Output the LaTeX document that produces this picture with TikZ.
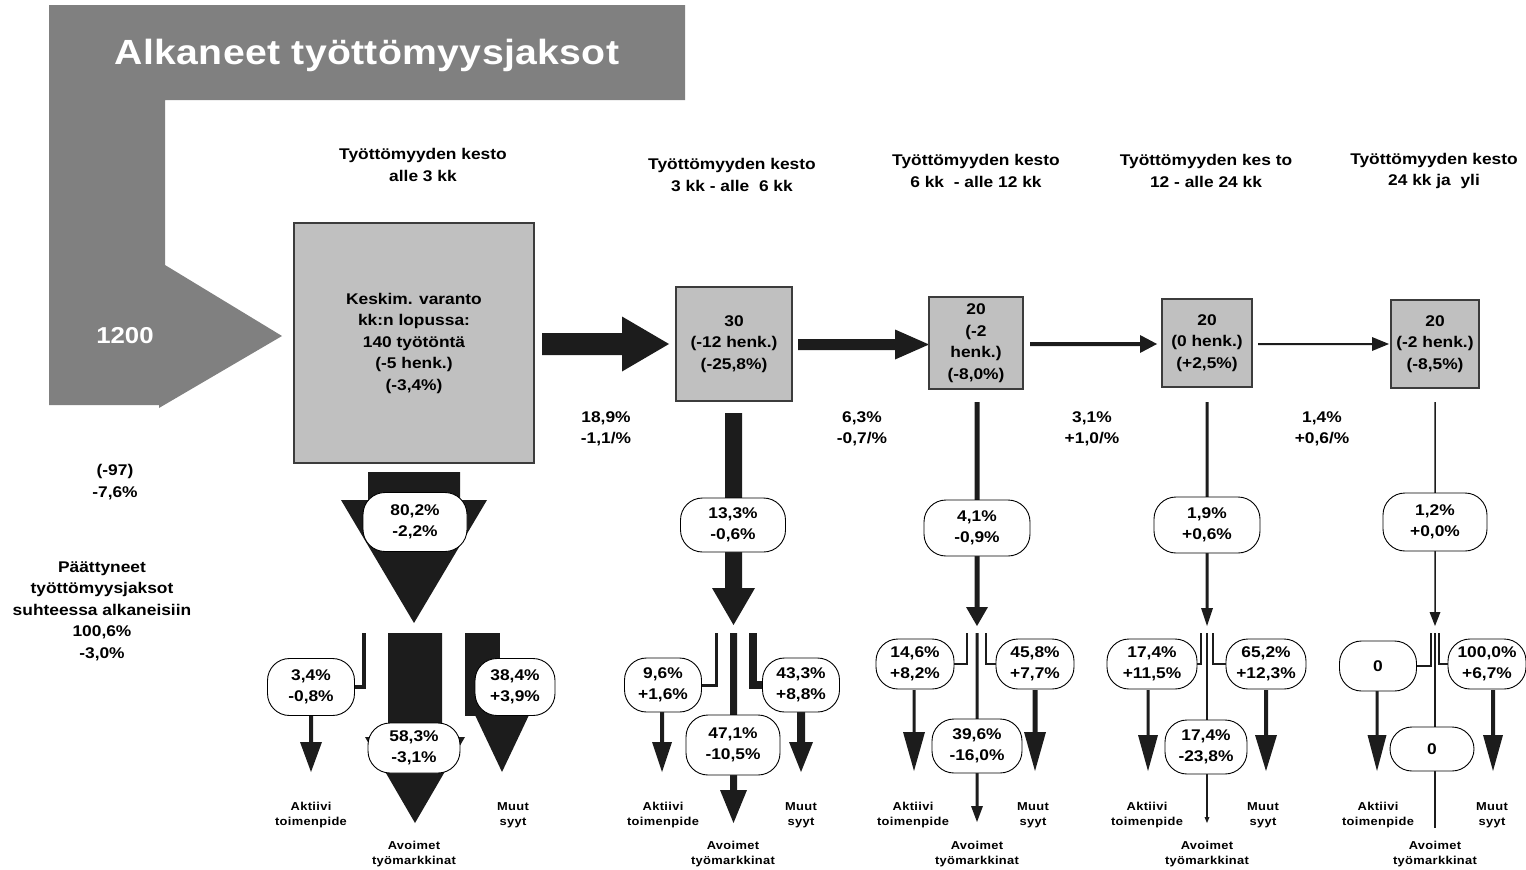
\documentclass[tikz,border=0pt]{standalone}
\usepackage{fontspec}
\setmainfont{Liberation Sans}[FakeStretch=1.12]
\definecolor{darkfill}{RGB}{28,28,28}
\definecolor{bandgray}{RGB}{128,128,128}
\definecolor{boxgray}{RGB}{192,192,192}
\definecolor{boxline}{RGB}{60,60,60}
% block arrow pointing down: x, shaft half width, top y, head start y, head half width, tip y
\newcommand\flowdown[6]{%
  \fill[darkfill] ({#1-#2},#3) -- ({#1+#2},#3) -- ({#1+#2},#4) -- ({#1+#5},#4)
    -- (#1,#6) -- ({#1-#5},#4) -- ({#1-#2},#4) -- cycle;}
% block arrow pointing right: y, shaft half width, start x, head start x, head half width, tip x
\newcommand\flowright[6]{%
  \fill[darkfill] (#3,{#1-#2}) -- (#4,{#1-#2}) -- (#4,{#1-#5}) -- (#6,#1)
    -- (#4,{#1+#5}) -- (#4,{#1+#2}) -- (#3,{#1+#2}) -- cycle;}
\begin{document}
\begin{tikzpicture}[x=1pt,y=-1pt,
  txt/.style={font=\bfseries\fontsize{15.5}{21.5}\selectfont,align=center,inner sep=0pt},
  ovtxt/.style={font=\bfseries\fontsize{15.5}{21}\selectfont,align=center,inner sep=0pt},
  lbl/.style={font=\bfseries\fontsize{11.5}{15.5}\selectfont\addfontfeature{LetterSpace=3},align=center,inner sep=0pt},
  stockbox/.style={txt,draw=boxline,line width=1.2pt,fill=boxgray},
  oval/.style={ovtxt,draw=black,line width=0.9pt,fill=white,rounded corners=22pt},
  split/.style={draw=darkfill,line width=#1},
]
\useasboundingbox (0,0) rectangle (1526,870);

% incoming spells band
\fill[bandgray] (49,5) -- (685,5) -- (685,100) -- (165,100) -- (165,265)
  -- (282,336) -- (159,408) -- (159,405) -- (49,405) -- cycle;
\node[font=\bfseries\fontsize{35}{40}\selectfont\addfontfeature{LetterSpace=1},text=white,inner sep=0pt]
  (title) at (367,55) {Alkaneet työttömyysjaksot};
\node[font=\bfseries\fontsize{23}{26}\selectfont,text=white,inner sep=0pt] (inflow) at (125,336) {1200};

% duration headers
\node[txt] (h1) at (423,165) {Työttömyyden kesto\\alle 3 kk};
\node[txt] (h2) at (732,175) {Työttömyyden kesto\\3 kk - alle~~6 kk};
\node[txt] (h3) at (976,171) {Työttömyyden kesto\\6 kk~~- alle 12 kk};
\node[txt] (h4) at (1206,171) {Työttömyyden kes to\\12 - alle 24 kk};
\node[txt] (h5) at (1434,171) {Työttömyyden kesto\\24 kk ja~~yli};

% left side figures
\node[txt] (tot) at (115,482) {(-97)\\-7,6\%};
\node[txt] (ended) at (102,611) {Päättyneet\\työttömyysjaksot\\suhteessa alkaneisiin\\100,6\%\\-3,0\%};

% flows between stocks
\flowright{344}{11}{542}{622}{27.5}{669}
\flowright{344.5}{5.5}{798}{895}{15}{929}
\flowright{344}{2}{1030}{1140}{9}{1157}
\flowright{344}{1}{1258}{1372}{7}{1389}

\node[txt] (t12) at (606,429) {18,9\%\\-1,1/\%};
\node[txt] (t23) at (862,429) {6,3\%\\-0,7/\%};
\node[txt] (t34) at (1092,429) {3,1\%\\+1,0/\%};
\node[txt] (t45) at (1322,429) {1,4\%\\+0,6/\%};

% outflows, column 1
\flowdown{414}{46}{472}{500}{73}{623}
\flowdown{415}{27}{633}{737}{50}{823}
\fill[darkfill] (465,633) rectangle (500,716);
\fill[darkfill] (475,715) -- (529,715) -- (502,772) -- cycle;
\flowdown{311}{2}{714}{742}{11}{772}
% column 2
\flowdown{733.5}{8.5}{413}{588}{21.5}{625}
\flowdown{733.5}{3.5}{633}{790}{13.5}{823}
\flowdown{662}{2}{711}{742}{10}{772}
\flowdown{801}{4}{711}{742}{12}{772}
% column 3
\flowdown{977}{2.5}{402}{607}{11}{626}
\flowdown{977}{1.5}{633}{806}{6}{822}
\flowdown{914}{1.5}{690}{732}{11}{771}
\flowdown{1035}{2.5}{690}{732}{11}{771}
% column 4
\flowdown{1207}{1.5}{402}{608}{6}{626}
\flowdown{1207}{0.8}{633}{817}{2.5}{823}
\flowdown{1148}{1.5}{690}{735}{10}{771}
\flowdown{1266}{2}{690}{735}{11}{771}
% column 5
\flowdown{1435}{0.75}{402}{612}{5.5}{626}
\fill[darkfill] (1434.4,633) rectangle (1435.6,828);
\flowdown{1377}{1.5}{690}{735}{9.5}{771}
\flowdown{1493}{2}{690}{735}{10}{771}

% stocks
\node[stockbox,minimum width=240pt,minimum height=240pt] (b1) at (414,343)
  {Keskim. varanto\\kk:n lopussa:\\140 työtöntä\\(-5 henk.)\\(-3,4\%)};
\node[stockbox,minimum width=116pt,minimum height=114pt] (b2) at (734,344) {30\\(-12 henk.)\\(-25,8\%)};
\node[stockbox,minimum width=94pt,minimum height=92pt] (b3) at (976,343) {20\\(-2\\henk.)\\(-8,0\%)};
\node[stockbox,minimum width=90pt,minimum height=88pt] (b4) at (1207,343) {20\\(0 henk.)\\(+2,5\%)};
\node[stockbox,minimum width=88pt,minimum height=88pt] (b5) at (1435,344) {20\\(-2 henk.)\\(-8,5\%)};

% shares
\node[oval,minimum width=104pt,minimum height=59pt] (o1) at (415,522) {80,2\%\\-2,2\%};
\node[oval,minimum width=87pt,minimum height=57pt] (L1) at (311,687) {3,4\%\\-0,8\%};
\node[oval,minimum width=80pt,minimum height=57pt] (R1) at (515,687) {38,4\%\\+3,9\%};
\node[oval,minimum width=92pt,minimum height=50pt] (M1) at (414,748) {58,3\%\\-3,1\%};

\node[oval,minimum width=105pt,minimum height=54pt] (o2) at (733,525) {13,3\%\\-0,6\%};
\node[oval,minimum width=77pt,minimum height=54pt] (L2) at (663,685) {9,6\%\\+1,6\%};
\node[oval,minimum width=77pt,minimum height=54pt] (R2) at (801,685) {43,3\%\\+8,8\%};
\node[oval,minimum width=94pt,minimum height=60pt] (M2) at (733,745) {47,1\%\\-10,5\%};

\node[oval,minimum width=106pt,minimum height=56pt] (o3) at (977,528) {4,1\%\\-0,9\%};
\node[oval,minimum width=78pt,minimum height=50pt] (L3) at (915,664) {14,6\%\\+8,2\%};
\node[oval,minimum width=78pt,minimum height=50pt] (R3) at (1035,664) {45,8\%\\+7,7\%};
\node[oval,minimum width=90pt,minimum height=54pt] (M3) at (977,746) {39,6\%\\-16,0\%};

\node[oval,minimum width=106pt,minimum height=56pt] (o4) at (1207,525) {1,9\%\\+0,6\%};
\node[oval,minimum width=90pt,minimum height=50pt] (L4) at (1152,664) {17,4\%\\+11,5\%};
\node[oval,minimum width=80pt,minimum height=50pt] (R4) at (1266,664) {65,2\%\\+12,3\%};
\node[oval,minimum width=82pt,minimum height=54pt] (M4) at (1206,747) {17,4\%\\-23,8\%};

\node[oval,minimum width=104pt,minimum height=58pt] (o5) at (1435,522) {1,2\%\\+0,0\%};
\node[oval,minimum width=77pt,minimum height=50pt] (L5) at (1378,666) {0};
\node[oval,minimum width=78pt,minimum height=50pt] (R5) at (1487,664) {100,0\%\\+6,7\%};
\node[oval,minimum width=84pt,minimum height=44pt] (M5) at (1432,749) {0};

% split branches
\draw[split=3.5pt] (364,633) |- (L1.east);
\draw[split=3pt] (716,633) |- (L2.east);
\draw[split=8pt] (753,633) |- (R2.west);
\draw[split=2.5pt] (967,633) |- (L3.east);
\draw[split=2.5pt] (986,633) |- (R3.west);
\draw[split=2.5pt] (1201,633) |- (L4.east);
\draw[split=2.5pt] (1213,633) |- (R4.west);
\draw[split=2.5pt] (1431,633) |- (L5.east);
\draw[split=2.5pt] (1439,633) |- (R5.west);

% destinations
\foreach \n/\x in {1/311,2/663,3/913,4/1147,5/1378}
  \node[lbl] (act\n) at (\x,815) {Aktiivi\\toimenpide};
\foreach \n/\x in {1/513,2/801,3/1033,4/1263,5/1492}
  \node[lbl] (oth\n) at (\x,815) {Muut\\syyt};
\foreach \n/\x in {1/414,2/733,3/977,4/1207,5/1435}
  \node[lbl] (open\n) at (\x,854) {Avoimet\\työmarkkinat};
\end{tikzpicture}
\end{document}
